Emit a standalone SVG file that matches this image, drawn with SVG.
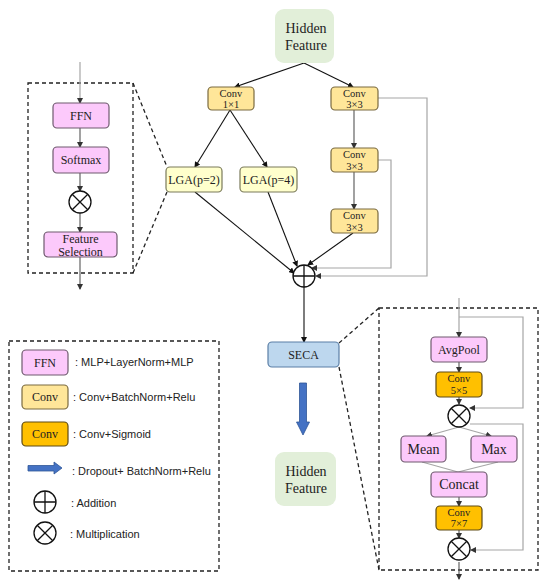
<svg xmlns="http://www.w3.org/2000/svg" width="550" height="587" viewBox="0 0 550 587">
<defs>
<style>
.box{stroke-width:1.2}
.ffn{fill:#fcc9fb;stroke:#6e5a6e}
.convl{fill:#ffe699;stroke:#7a6a40}
.lga{fill:#ffffcc;stroke:#7a7a5a}
.convo{fill:#ffc000;stroke:#5e4a14}
.hf{fill:#e2efd9}
.seca{fill:#bdd7ee;stroke:#5b7fa6}
.t{font-family:"Liberation Serif","DejaVu Serif",serif;font-size:12px;fill:#222;text-anchor:middle}
.t2{font-family:"Liberation Serif","DejaVu Serif",serif;font-size:10.5px;fill:#222;text-anchor:middle}
.t14{font-family:"Liberation Serif","DejaVu Serif",serif;font-size:14px;fill:#222;text-anchor:middle}
.lg{font-family:"Liberation Sans","Open Sans",sans-serif;font-size:11px;fill:#222}
.blk{stroke:#111;stroke-width:1.1;fill:none}
.dg{stroke:#555;stroke-width:1.1;fill:none}
.gr{stroke:#a6a6a6;stroke-width:1.2;fill:none}
.dash{stroke:#222;stroke-width:1.3;fill:none;stroke-dasharray:4,3}
.circ{fill:#fff;stroke:#111;stroke-width:1.3}
.sym{stroke:#111;stroke-width:1.3;fill:none}
.blue{fill:#4472c4;stroke:#2f5597;stroke-width:0.8}
</style>
<marker id="ab" markerWidth="6" markerHeight="6" refX="5" refY="3" orient="auto" markerUnits="userSpaceOnUse"><path d="M0,0 L6,3 L0,6 z" fill="#111"/></marker>
<marker id="ad" markerWidth="6" markerHeight="6" refX="5" refY="3" orient="auto" markerUnits="userSpaceOnUse"><path d="M0,0 L6,3 L0,6 z" fill="#333"/></marker>
</defs>

<g id="frames">
<rect x="28" y="83" width="105" height="190" class="dash"/>
<line x1="133" y1="83" x2="167" y2="167" class="dash"/>
<line x1="133" y1="273" x2="167" y2="192" class="dash"/>
<rect x="379" y="308" width="159" height="262" class="dash"/>
<line x1="339" y1="343" x2="379" y2="308" class="dash"/>
<line x1="339" y1="367" x2="379" y2="570" class="dash"/>
</g>

<g id="connectors">
<line x1="304" y1="63" x2="235" y2="87" class="blk" marker-end="url(#ab)"/>
<line x1="304" y1="63" x2="353" y2="87" class="blk" marker-end="url(#ab)"/>
<line x1="230" y1="110" x2="195" y2="167" class="blk" marker-end="url(#ab)"/>
<line x1="230" y1="110" x2="267" y2="167" class="blk" marker-end="url(#ab)"/>
<line x1="195" y1="192" x2="294" y2="273" class="blk" marker-end="url(#ab)"/>
<line x1="268" y1="192" x2="297" y2="266" class="blk" marker-end="url(#ab)"/>
<line x1="353" y1="233" x2="308" y2="265" class="blk" marker-end="url(#ab)"/>
<line x1="354" y1="110" x2="354" y2="148" class="dg" marker-end="url(#ad)"/>
<line x1="354" y1="172" x2="354" y2="209" class="dg" marker-end="url(#ad)"/>
<polyline points="378,98 427,98 427,276 316,276" class="gr" marker-end="url(#ad)"/>
<polyline points="378,160 391,160 391,268 312,268" class="gr" marker-end="url(#ad)"/>
<line x1="304" y1="287" x2="304" y2="342" class="blk" marker-end="url(#ab)"/>
<line x1="80" y1="62" x2="80" y2="103" class="gr" marker-end="url(#ad)"/>
<line x1="80" y1="128" x2="80" y2="147" class="dg" marker-end="url(#ad)"/>
<line x1="80" y1="173" x2="80" y2="191" class="dg" marker-end="url(#ad)"/>
<line x1="80" y1="213" x2="80" y2="232" class="dg" marker-end="url(#ad)"/>
<line x1="80" y1="257" x2="80" y2="289" class="dg" marker-end="url(#ad)"/>
<line x1="459" y1="298" x2="459" y2="337" class="gr" marker-end="url(#ad)"/>
<polyline points="459,317 523,317 523,408 470,408" class="gr" marker-end="url(#ad)"/>
<line x1="459" y1="362" x2="459" y2="372" class="dg" marker-end="url(#ad)"/>
<line x1="459" y1="397" x2="459" y2="404" class="dg" marker-end="url(#ad)"/>
<line x1="459" y1="427" x2="427" y2="436" class="gr" marker-end="url(#ad)"/>
<line x1="459" y1="427" x2="491" y2="436" class="gr" marker-end="url(#ad)"/>
<polyline points="470,424 523,424 523,550 471,550" class="gr" marker-end="url(#ad)"/>
<line x1="422" y1="462" x2="458" y2="472" class="gr"/>
<line x1="498" y1="462" x2="458" y2="472" class="gr"/>
<line x1="459" y1="497" x2="459" y2="506" class="dg" marker-end="url(#ad)"/>
<line x1="459" y1="530" x2="459" y2="538" class="dg" marker-end="url(#ad)"/>
<line x1="459" y1="562" x2="459" y2="579" class="dg" marker-end="url(#ad)"/>
</g>

<g id="hidden-top"><rect x="275" y="9" width="59" height="54" rx="9" class="hf"/>
<text x="306" y="33" class="t14">Hidden</text><text x="306" y="50" class="t14">Feature</text></g>

<g id="conv1x1"><rect x="208" y="87" width="46" height="23" rx="4" class="box convl"/>
<text x="231" y="96.5" class="t2">Conv</text><text x="231" y="108.2" class="t2">1×1</text></g>
<g id="conv3a"><rect x="331" y="87" width="47" height="23" rx="4" class="box convl"/>
<text x="354.5" y="96.5" class="t2">Conv</text><text x="354.5" y="108.2" class="t2">3×3</text></g>
<g id="conv3b"><rect x="331" y="148" width="47" height="24" rx="4" class="box convl"/>
<text x="354.5" y="158" class="t2">Conv</text><text x="354.5" y="169.7" class="t2">3×3</text></g>
<g id="conv3c"><rect x="331" y="209" width="47" height="24" rx="4" class="box convl"/>
<text x="354.5" y="219" class="t2">Conv</text><text x="354.5" y="230.7" class="t2">3×3</text></g>
<g id="lga2"><rect x="166" y="167" width="56" height="25" rx="4" class="box lga"/>
<text x="194" y="184" class="t">LGA(p=2)</text></g>
<g id="lga4"><rect x="240" y="167" width="57" height="25" rx="4" class="box lga"/>
<text x="268.5" y="184" class="t">LGA(p=4)</text></g>
<g id="add"><circle cx="304" cy="276" r="11" class="circ"/>
<path d="M293,276 H315 M304,265 V287" class="sym"/></g>

<g id="ffn"><rect x="53" y="103" width="56" height="25" rx="4" class="box ffn"/>
<text x="81" y="120" class="t">FFN</text></g>
<g id="softmax"><rect x="53" y="147" width="56" height="26" rx="4" class="box ffn"/>
<text x="81" y="164" class="t">Softmax</text></g>
<g id="mul-left"><circle cx="80" cy="202" r="11" class="circ"/>
<path d="M72.2,194.2 L87.8,209.8 M87.8,194.2 L72.2,209.8" class="sym"/></g>
<g id="featsel"><rect x="44" y="232" width="73" height="25" rx="4" class="box ffn"/>
<text x="80.5" y="242.5" class="t">Feature</text><text x="80.5" y="255.5" class="t">Selection</text></g>

<g id="seca"><rect x="268" y="342" width="71" height="25" rx="4" class="box seca"/>
<text x="303.5" y="359" class="t">SECA</text></g>
<g id="blue-arrow"><polygon points="299.5,383 306.5,383 306.5,422 309.5,422 303,435 296.5,422 299.5,422" class="blue"/></g>
<g id="hidden-bottom"><rect x="275" y="452" width="61" height="54" rx="9" class="hf"/>
<text x="306" y="476" class="t14">Hidden</text><text x="306" y="493" class="t14">Feature</text></g>

<g id="avgpool"><rect x="431" y="337" width="56" height="25" rx="4" class="box ffn"/>
<text x="459" y="354" class="t">AvgPool</text></g>
<g id="conv5"><rect x="436" y="372" width="46" height="25" rx="4" class="box convo"/>
<text x="459" y="382" class="t2">Conv</text><text x="459" y="393.7" class="t2">5×5</text></g>
<g id="mul1"><circle cx="459" cy="416" r="11" class="circ"/>
<path d="M451.2,408.2 L466.8,423.8 M466.8,408.2 L451.2,423.8" class="sym"/></g>
<g id="mean"><rect x="401" y="436" width="45" height="26" rx="4" class="box ffn"/>
<text x="423.5" y="454" class="t14">Mean</text></g>
<g id="max"><rect x="471" y="436" width="46" height="26" rx="4" class="box ffn"/>
<text x="494" y="454" class="t14">Max</text></g>
<g id="concat"><rect x="431" y="472" width="56" height="25" rx="4" class="box ffn"/>
<text x="459" y="489" class="t14">Concat</text></g>
<g id="conv7"><rect x="436" y="506" width="46" height="24" rx="4" class="box convo"/>
<text x="459" y="515.5" class="t2">Conv</text><text x="459" y="527.2" class="t2">7×7</text></g>
<g id="mul2"><circle cx="459" cy="549" r="11" class="circ"/>
<path d="M451.2,541.2 L466.8,556.8 M466.8,541.2 L451.2,556.8" class="sym"/></g>

<g id="legend">
<rect x="9" y="341" width="210" height="230" class="dash"/>
<rect x="22" y="350" width="46" height="25" rx="4" class="box ffn"/>
<text x="45" y="367" class="t">FFN</text>
<text x="75" y="366" class="lg">: MLP+LayerNorm+MLP</text>
<rect x="22" y="385" width="46" height="24" rx="4" class="box convl"/>
<text x="45" y="401" class="t">Conv</text>
<text x="73" y="401" class="lg">: Conv+BatchNorm+Relu</text>
<rect x="22" y="422" width="46" height="24" rx="4" class="box convo"/>
<text x="45" y="438" class="t">Conv</text>
<text x="73" y="438" class="lg">: Conv+Sigmoid</text>
<polygon points="28,465.5 54,465.5 54,462 62,468 54,474 54,471 28,471" class="blue"/>
<text x="72" y="475" class="lg">: Dropout+ BatchNorm+Relu</text>
<circle cx="45" cy="502" r="11" class="circ"/>
<path d="M34,502 H56 M45,491 V513" class="sym"/>
<text x="71" y="507" class="lg">: Addition</text>
<circle cx="45" cy="533" r="11" class="circ"/>
<path d="M37.2,525.2 L52.8,540.8 M52.8,525.2 L37.2,540.8" class="sym"/>
<text x="70" y="538" class="lg">: Multiplication</text>
</g>
</svg>
